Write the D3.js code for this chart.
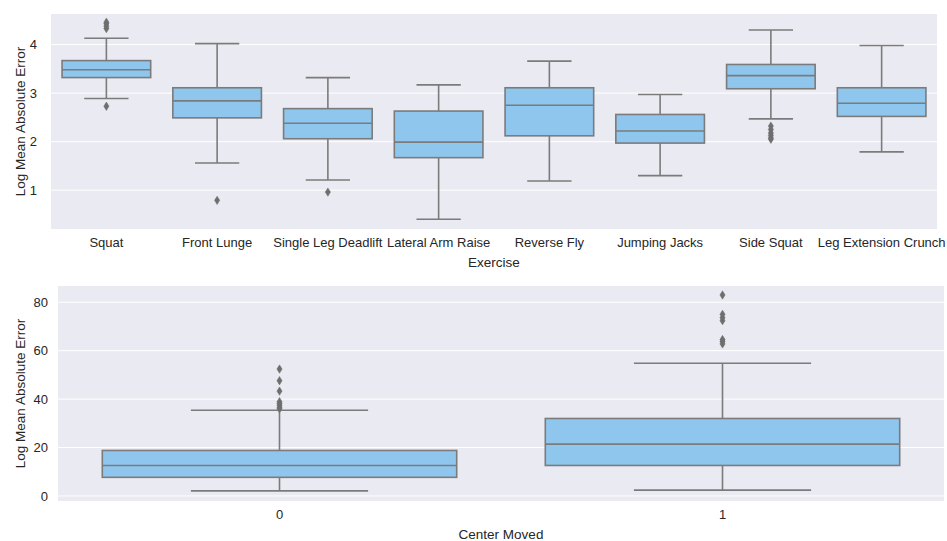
<!doctype html>
<html>
<head>
<meta charset="UTF-8">
<script src="https://d3js.org/d3.v7.min.js"></script>
<style>
	body { margin: 0; background: #fff; }
	text { font-family: "Liberation Sans", Arial, sans-serif; fill: #262626; }
</style>
</head>
<body>
<svg id="chartWrapper"></svg>
<script>
// top panel: exercise
const exercises = ["Squat", "Front Lunge", "Single Leg Deadlift", "Lateral Arm Raise", "Reverse Fly", "Jumping Jacks", "Side Squat", "Leg Extension Crunch"];
const exLow    = [2.89, 1.56, 1.21, 0.40, 1.19, 1.30, 2.47, 1.79];
const exQ1     = [3.32, 2.49, 2.06, 1.67, 2.12, 1.97, 3.09, 2.52];
const exMedian = [3.48, 2.84, 2.38, 1.99, 2.75, 2.22, 3.36, 2.79];
const exQ3     = [3.67, 3.11, 2.68, 2.63, 3.11, 2.56, 3.59, 3.11];
const exHigh   = [4.13, 4.02, 3.32, 3.17, 3.66, 2.97, 4.30, 3.98];
const exOutliers = [
	[4.33, 4.38, 4.43, 4.46, 2.73],
	[0.79],
	[0.96],
	[],
	[],
	[],
	[2.32, 2.25, 2.18, 2.13, 2.08, 2.05],
	[]
];
const exTicks = [1, 2, 3, 4];

// bottom panel: center moved
const moved = ["0", "1"];
const mvLow    = [2.1, 2.4];
const mvQ1     = [7.7, 12.6];
const mvMedian = [12.6, 21.4];
const mvQ3     = [18.8, 32.0];
const mvHigh   = [35.4, 54.8];
const mvOutliers = [
	[52.4, 47.6, 43.3, 38.9, 38.2, 37.5, 36.6, 36.0],
	[83.0, 75.0, 73.6, 72.4, 64.6, 63.8, 62.8]
];
const mvTicks = [0, 20, 40, 60, 80];

(function(){
	let svg = d3.select("#chartWrapper")
		.attr("width", 947)
		.attr("height", 541);

	let boxFill = "#8fc6ee",
		lineCol = "#7b7b7b";

	let drawPanel = function(opt){
		let x = d3.scaleBand()
			.domain(opt.cats)
			.range([opt.left, opt.right]);
		let y = d3.scaleLinear()
			.domain(opt.domain)
			.range([opt.bottom, opt.top]);

		svg.append("rect")
			.attr("x", opt.left)
			.attr("y", opt.top)
			.attr("width", opt.right - opt.left)
			.attr("height", opt.bottom - opt.top)
			.attr("fill", "#eaeaf2");

		// gridlines
		svg.append("g")
			.selectAll("line")
			.data(opt.ticks)
			.enter().append("line")
			.attr("x1", opt.left)
			.attr("x2", opt.right)
			.attr("y1", d => y(d))
			.attr("y2", d => y(d))
			.attr("stroke", "#fff")
			.attr("stroke-width", 1);

		// axes (no domain line, no tick marks)
		let yAxis = svg.append("g")
			.attr("transform", "translate(" + opt.left + ",0)")
			.call(d3.axisLeft(y).tickValues(opt.ticks).tickFormat(d3.format("d")).tickSize(0).tickPadding(opt.tickPad));
		yAxis.select(".domain").remove();
		yAxis.selectAll("text").style("font-size", "13px").style("font-family", null).attr("fill", "#262626");

		let xAxis = svg.append("g")
			.attr("transform", "translate(0," + opt.bottom + ")")
			.call(d3.axisBottom(x).tickSize(0).tickPadding(9));
		xAxis.select(".domain").remove();
		xAxis.selectAll("text").style("font-size", "13px").style("font-family", null).attr("fill", "#262626");

		svg.append("text")
			.attr("x", (opt.left + opt.right) / 2)
			.attr("y", opt.bottom + 38)
			.attr("text-anchor", "middle")
			.style("font-size", "13.5px")
			.text(opt.xLabel);

		svg.append("text")
			.attr("transform", "translate(25," + ((opt.top + opt.bottom) / 2) + ") rotate(-90)")
			.attr("text-anchor", "middle")
			.style("font-size", "13.5px")
			.text(opt.yLabel);

		let bw = x.bandwidth() * 0.8;
		let g = svg.append("g")
			.selectAll("g")
			.data(opt.cats.map((c, i) => ({c: c, i: i})))
			.enter().append("g");

		let cx = d => x(d.c) + x.bandwidth() / 2;

		// whiskers
		g.append("line")
			.attr("x1", cx).attr("x2", cx)
			.attr("y1", d => y(opt.high[d.i]))
			.attr("y2", d => y(opt.q3[d.i]));
		g.append("line")
			.attr("x1", cx).attr("x2", cx)
			.attr("y1", d => y(opt.q1[d.i]))
			.attr("y2", d => y(opt.low[d.i]));
		g.append("line")
			.attr("x1", d => cx(d) - bw / 4).attr("x2", d => cx(d) + bw / 4)
			.attr("y1", d => y(opt.high[d.i]))
			.attr("y2", d => y(opt.high[d.i]));
		g.append("line")
			.attr("x1", d => cx(d) - bw / 4).attr("x2", d => cx(d) + bw / 4)
			.attr("y1", d => y(opt.low[d.i]))
			.attr("y2", d => y(opt.low[d.i]));

		// box
		g.append("rect")
			.attr("x", d => cx(d) - bw / 2)
			.attr("width", bw)
			.attr("y", d => y(opt.q3[d.i]))
			.attr("height", d => y(opt.q1[d.i]) - y(opt.q3[d.i]))
			.attr("fill", boxFill);
		g.append("line")
			.attr("x1", d => cx(d) - bw / 2).attr("x2", d => cx(d) + bw / 2)
			.attr("y1", d => y(opt.median[d.i]))
			.attr("y2", d => y(opt.median[d.i]));

		g.selectAll("line, rect")
			.attr("stroke", lineCol)
			.attr("stroke-width", 1.6);

		// outliers as diamonds
		g.selectAll("path")
			.data(d => opt.outliers[d.i].map(v => ({v: v, cx: cx(d)})))
			.enter().append("path")
			.attr("d", "M0,-4.2L2.6,0L0,4.2L-2.6,0Z")
			.attr("transform", d => "translate(" + d.cx + "," + y(d.v) + ")")
			.attr("fill", "#6e6e6e")
			.attr("stroke", "#6e6e6e")
			.attr("stroke-width", 0.5);
	};

	drawPanel({
		cats: exercises, low: exLow, q1: exQ1, median: exMedian, q3: exQ3, high: exHigh, outliers: exOutliers,
		ticks: exTicks, domain: [0.2, 4.63],
		left: 51, right: 937, top: 14, bottom: 229, tickPad: 14,
		xLabel: "Exercise", yLabel: "Log Mean Absolute Error"
	});

	drawPanel({
		cats: moved, low: mvLow, q1: mvQ1, median: mvMedian, q3: mvQ3, high: mvHigh, outliers: mvOutliers,
		ticks: mvTicks, domain: [-2.07, 86.7],
		left: 58, right: 944, top: 286, bottom: 501, tickPad: 10,
		xLabel: "Center Moved", yLabel: "Log Mean Absolute Error"
	});
})();
</script>
</body>
</html>
